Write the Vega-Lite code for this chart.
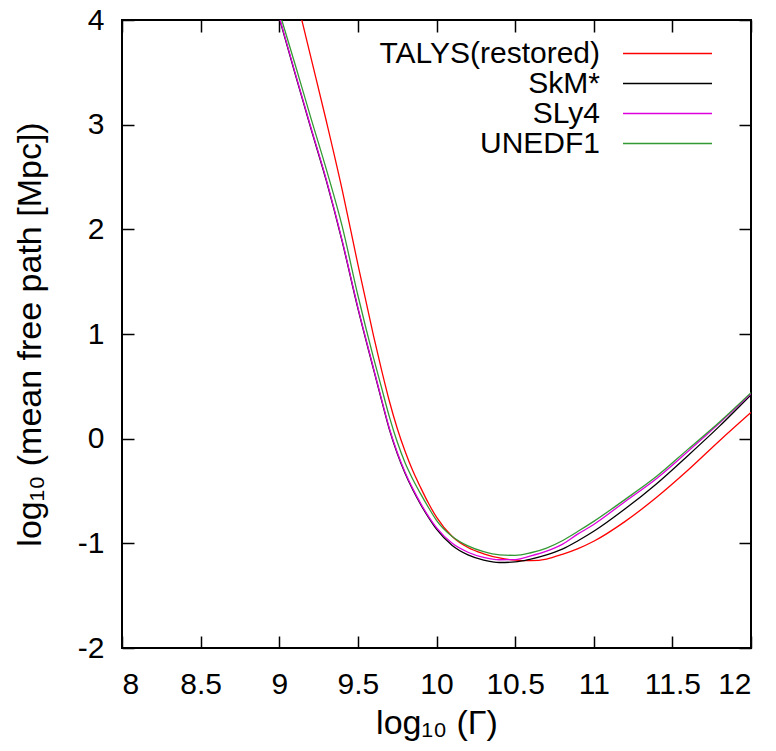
{
  "$schema": "https://vega.github.io/schema/vega-lite/v6.json",
  "width": 629,
  "height": 628,
  "autosize": {"type": "none"},
  "padding": {"left": 122, "top": 20, "right": 25, "bottom": 103},
  "background": "white",
  "config": {
    "view": {"stroke": "black", "strokeWidth": 2},
    "font": "Liberation Sans",
    "axis": {
      "grid": false,
      "domain": false,
      "ticks": true,
      "tickColor": "black",
      "tickWidth": 1.5,
      "tickSize": -12,
      "labelFont": "Liberation Sans",
      "labelFontSize": 30,
      "labelColor": "black",
      "titleFont": "Liberation Sans",
      "titleFontSize": 34,
      "titleColor": "black",
      "titleFontWeight": "normal"
    }
  },
  "data": {
    "values": [
      {"g": 9.1, "y": 4.27, "m": "TALYS(restored)"},
      {"g": 9.2, "y": 3.65, "m": "TALYS(restored)"},
      {"g": 9.3, "y": 3.03, "m": "TALYS(restored)"},
      {"g": 9.4, "y": 2.38, "m": "TALYS(restored)"},
      {"g": 9.5, "y": 1.665, "m": "TALYS(restored)"},
      {"g": 9.6, "y": 0.98, "m": "TALYS(restored)"},
      {"g": 9.65, "y": 0.66, "m": "TALYS(restored)"},
      {"g": 9.7, "y": 0.36, "m": "TALYS(restored)"},
      {"g": 9.75, "y": 0.1, "m": "TALYS(restored)"},
      {"g": 9.8, "y": -0.12, "m": "TALYS(restored)"},
      {"g": 9.85, "y": -0.31, "m": "TALYS(restored)"},
      {"g": 9.9, "y": -0.47, "m": "TALYS(restored)"},
      {"g": 9.95, "y": -0.62, "m": "TALYS(restored)"},
      {"g": 10.0, "y": -0.75, "m": "TALYS(restored)"},
      {"g": 10.1, "y": -0.935, "m": "TALYS(restored)"},
      {"g": 10.2, "y": -1.04, "m": "TALYS(restored)"},
      {"g": 10.3, "y": -1.1, "m": "TALYS(restored)"},
      {"g": 10.4, "y": -1.14, "m": "TALYS(restored)"},
      {"g": 10.5, "y": -1.16, "m": "TALYS(restored)"},
      {"g": 10.6, "y": -1.165, "m": "TALYS(restored)"},
      {"g": 10.7, "y": -1.15, "m": "TALYS(restored)"},
      {"g": 10.8, "y": -1.105, "m": "TALYS(restored)"},
      {"g": 10.9, "y": -1.05, "m": "TALYS(restored)"},
      {"g": 11.0, "y": -0.98, "m": "TALYS(restored)"},
      {"g": 11.2, "y": -0.79, "m": "TALYS(restored)"},
      {"g": 11.4, "y": -0.56, "m": "TALYS(restored)"},
      {"g": 11.6, "y": -0.3, "m": "TALYS(restored)"},
      {"g": 11.8, "y": -0.02, "m": "TALYS(restored)"},
      {"g": 12.0, "y": 0.25, "m": "TALYS(restored)"},

      {"g": 9.0, "y": 4.02, "m": "SkM*"},
      {"g": 9.1, "y": 3.49, "m": "SkM*"},
      {"g": 9.2, "y": 2.97, "m": "SkM*"},
      {"g": 9.3, "y": 2.46, "m": "SkM*"},
      {"g": 9.4, "y": 1.885, "m": "SkM*"},
      {"g": 9.5, "y": 1.245, "m": "SkM*"},
      {"g": 9.6, "y": 0.66, "m": "SkM*"},
      {"g": 9.65, "y": 0.37, "m": "SkM*"},
      {"g": 9.7, "y": 0.09, "m": "SkM*"},
      {"g": 9.75, "y": -0.14, "m": "SkM*"},
      {"g": 9.8, "y": -0.33, "m": "SkM*"},
      {"g": 9.85, "y": -0.49, "m": "SkM*"},
      {"g": 9.9, "y": -0.63, "m": "SkM*"},
      {"g": 9.95, "y": -0.755, "m": "SkM*"},
      {"g": 10.0, "y": -0.865, "m": "SkM*"},
      {"g": 10.1, "y": -1.02, "m": "SkM*"},
      {"g": 10.2, "y": -1.11, "m": "SkM*"},
      {"g": 10.3, "y": -1.16, "m": "SkM*"},
      {"g": 10.4, "y": -1.183, "m": "SkM*"},
      {"g": 10.5, "y": -1.178, "m": "SkM*"},
      {"g": 10.6, "y": -1.15, "m": "SkM*"},
      {"g": 10.7, "y": -1.11, "m": "SkM*"},
      {"g": 10.8, "y": -1.055, "m": "SkM*"},
      {"g": 10.9, "y": -0.975, "m": "SkM*"},
      {"g": 11.0, "y": -0.885, "m": "SkM*"},
      {"g": 11.2, "y": -0.67, "m": "SkM*"},
      {"g": 11.4, "y": -0.43, "m": "SkM*"},
      {"g": 11.6, "y": -0.16, "m": "SkM*"},
      {"g": 11.8, "y": 0.12, "m": "SkM*"},
      {"g": 12.0, "y": 0.42, "m": "SkM*"},

      {"g": 9.0, "y": 4.03, "m": "SLy4"},
      {"g": 9.1, "y": 3.5, "m": "SLy4"},
      {"g": 9.2, "y": 2.98, "m": "SLy4"},
      {"g": 9.3, "y": 2.47, "m": "SLy4"},
      {"g": 9.4, "y": 1.894, "m": "SLy4"},
      {"g": 9.5, "y": 1.255, "m": "SLy4"},
      {"g": 9.6, "y": 0.669, "m": "SLy4"},
      {"g": 9.65, "y": 0.38, "m": "SLy4"},
      {"g": 9.7, "y": 0.1, "m": "SLy4"},
      {"g": 9.75, "y": -0.13, "m": "SLy4"},
      {"g": 9.8, "y": -0.32, "m": "SLy4"},
      {"g": 9.85, "y": -0.48, "m": "SLy4"},
      {"g": 9.9, "y": -0.62, "m": "SLy4"},
      {"g": 9.95, "y": -0.745, "m": "SLy4"},
      {"g": 10.0, "y": -0.85, "m": "SLy4"},
      {"g": 10.1, "y": -1.0, "m": "SLy4"},
      {"g": 10.2, "y": -1.085, "m": "SLy4"},
      {"g": 10.3, "y": -1.135, "m": "SLy4"},
      {"g": 10.4, "y": -1.157, "m": "SLy4"},
      {"g": 10.5, "y": -1.155, "m": "SLy4"},
      {"g": 10.6, "y": -1.12, "m": "SLy4"},
      {"g": 10.7, "y": -1.075, "m": "SLy4"},
      {"g": 10.8, "y": -1.01, "m": "SLy4"},
      {"g": 10.9, "y": -0.91, "m": "SLy4"},
      {"g": 11.0, "y": -0.82, "m": "SLy4"},
      {"g": 11.2, "y": -0.6, "m": "SLy4"},
      {"g": 11.4, "y": -0.38, "m": "SLy4"},
      {"g": 11.6, "y": -0.12, "m": "SLy4"},
      {"g": 11.8, "y": 0.15, "m": "SLy4"},
      {"g": 12.0, "y": 0.43, "m": "SLy4"},

      {"g": 9.0, "y": 4.08, "m": "UNEDF1"},
      {"g": 9.1, "y": 3.58, "m": "UNEDF1"},
      {"g": 9.2, "y": 3.07, "m": "UNEDF1"},
      {"g": 9.3, "y": 2.57, "m": "UNEDF1"},
      {"g": 9.4, "y": 2.03, "m": "UNEDF1"},
      {"g": 9.5, "y": 1.37, "m": "UNEDF1"},
      {"g": 9.6, "y": 0.77, "m": "UNEDF1"},
      {"g": 9.65, "y": 0.49, "m": "UNEDF1"},
      {"g": 9.7, "y": 0.21, "m": "UNEDF1"},
      {"g": 9.75, "y": -0.03, "m": "UNEDF1"},
      {"g": 9.8, "y": -0.23, "m": "UNEDF1"},
      {"g": 9.85, "y": -0.39, "m": "UNEDF1"},
      {"g": 9.9, "y": -0.53, "m": "UNEDF1"},
      {"g": 9.95, "y": -0.66, "m": "UNEDF1"},
      {"g": 10.0, "y": -0.78, "m": "UNEDF1"},
      {"g": 10.1, "y": -0.935, "m": "UNEDF1"},
      {"g": 10.2, "y": -1.025, "m": "UNEDF1"},
      {"g": 10.3, "y": -1.08, "m": "UNEDF1"},
      {"g": 10.4, "y": -1.11, "m": "UNEDF1"},
      {"g": 10.5, "y": -1.115, "m": "UNEDF1"},
      {"g": 10.6, "y": -1.09, "m": "UNEDF1"},
      {"g": 10.7, "y": -1.045, "m": "UNEDF1"},
      {"g": 10.8, "y": -0.975, "m": "UNEDF1"},
      {"g": 10.9, "y": -0.885, "m": "UNEDF1"},
      {"g": 11.0, "y": -0.79, "m": "UNEDF1"},
      {"g": 11.2, "y": -0.58, "m": "UNEDF1"},
      {"g": 11.4, "y": -0.36, "m": "UNEDF1"},
      {"g": 11.6, "y": -0.1, "m": "UNEDF1"},
      {"g": 11.8, "y": 0.16, "m": "UNEDF1"},
      {"g": 12.0, "y": 0.44, "m": "UNEDF1"}
    ]
  },
  "layer": [
    {
      "mark": {"type": "line", "strokeWidth": 1.3, "clip": true, "interpolate": "monotone"},
      "encoding": {
        "x": {
          "field": "g", "type": "quantitative",
          "scale": {"domain": [8, 12], "nice": false, "zero": false},
          "axis": {
            "orient": "bottom",
            "values": [8, 8.5, 9, 9.5, 10, 10.5, 11, 11.5, 12],
            "labelExpr": "'' + datum.value",
            "labelPadding": 33,
            "title": "log₁₀ (Γ)",
            "titleX": 314.5, "titleY": 75,
            "titleAlign": "center", "titleBaseline": "middle"
          }
        },
        "y": {
          "field": "y", "type": "quantitative",
          "scale": {"domain": [-2, 4], "nice": false, "zero": false},
          "axis": {
            "orient": "left",
            "values": [-2, -1, 0, 1, 2, 3, 4],
            "labelExpr": "'' + datum.value",
            "labelPadding": 30,
            "title": "log₁₀ (mean free path [Mpc])",
            "titleX": -92, "titleY": 314,
            "titleAngle": -90,
            "titleAlign": "center", "titleBaseline": "middle"
          }
        },
        "color": {
          "field": "m", "type": "nominal",
          "scale": {
            "domain": ["TALYS(restored)", "SkM*", "SLy4", "UNEDF1"],
            "range": ["#ff0000", "#000000", "#dd00dd", "#339933"]
          },
          "legend": {
            "orient": "none",
            "legendX": 530.5,
            "legendY": 18.5,
            "title": null,
            "symbolType": "M-8.9,0L8.9,0",
            "symbolSize": 100,
            "symbolStrokeWidth": 1.3,
            "labelAlign": "right",
            "labelOffset": -82.5,
            "labelFontSize": 30,
            "labelFont": "Liberation Sans",
            "labelColor": "black",
            "labelLimit": 0,
            "rowPadding": 0,
            "encode": {
              "symbols": {"update": {"stroke": {"scale": "color", "field": "value"}, "fill": {"value": "transparent"}, "strokeWidth": {"value": 1.3}, "opacity": {"value": 1}}}
            }
          }
        }
      }
    },
    {
      "mark": {"type": "line", "opacity": 0, "clip": true},
      "encoding": {
        "x": {
          "field": "g", "type": "quantitative",
          "scale": {"domain": [8, 12], "nice": false, "zero": false},
          "axis": {"orient": "top", "values": [8, 8.5, 9, 9.5, 10, 10.5, 11, 11.5, 12], "labels": false, "title": null}
        },
        "y": {
          "field": "y", "type": "quantitative",
          "scale": {"domain": [-2, 4], "nice": false, "zero": false},
          "axis": {"orient": "right", "values": [-2, -1, 0, 1, 2, 3, 4], "labels": false, "title": null}
        }
      }
    }
  ],
  "resolve": {"axis": {"x": "independent", "y": "independent"}}
}
